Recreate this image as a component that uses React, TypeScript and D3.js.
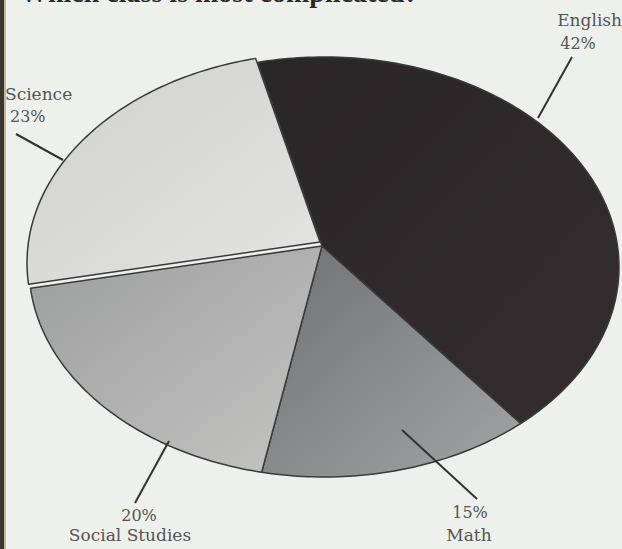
import React from "react";
import * as d3 from "d3";

const subjects = ["English", "Math", "Social Studies", "Science"];
const percents = [42, 15, 20, 23];
const percentLabels = ["42%", "15%", "20%", "23%"];
const titleText = "Which class is most complicated?";

const W = 622;
const H = 549;

// layout (not data)
const ellipse = { cx: 324, cy: 267, rx: 295, ry: 210 };
const apex = { x: 322, y: 246 };
const startDeg = -13;
const explode: Record<string, [number, number]> = { Science: [-2, -4] };

const fills: Record<string, [string, string]> = {
  English: ["#2a2527", "#332d2f"],
  Math: ["#6e7072", "#a2a4a5"],
  "Social Studies": ["#9c9d9d", "#c4c5c3"],
  Science: ["#d0d1ce", "#e4e5e1"],
};

type LabelLayout = {
  line: [number, number, number, number];
  name: { x: number; y: number; anchor: string };
  pct: { x: number; y: number; anchor: string };
};

const labelLayout: Record<string, LabelLayout> = {
  English: {
    line: [572, 57, 538, 118],
    name: { x: 622, y: 26, anchor: "end" },
    pct: { x: 578, y: 49, anchor: "middle" },
  },
  Science: {
    line: [16, 134, 63, 160],
    name: { x: 5, y: 100, anchor: "start" },
    pct: { x: 10, y: 122, anchor: "start" },
  },
  "Social Studies": {
    line: [135, 503, 169, 441],
    name: { x: 130, y: 541, anchor: "middle" },
    pct: { x: 139, y: 521, anchor: "middle" },
  },
  Math: {
    line: [477, 499, 402, 430],
    name: { x: 469, y: 541, anchor: "middle" },
    pct: { x: 470, y: 518, anchor: "middle" },
  },
};

const rows = subjects.map((s, i) => ({ subject: s, value: percents[i], label: percentLabels[i] }));

const pie = d3
  .pie<{ subject: string; value: number; label: string }>()
  .value((d) => d.value)
  .sort(null)
  .startAngle((startDeg * Math.PI) / 180)
  .endAngle((startDeg * Math.PI) / 180 + 2 * Math.PI);

const arcs = pie(rows);

const pt = (a: number): [number, number] => [
  ellipse.cx + ellipse.rx * Math.sin(a),
  ellipse.cy - ellipse.ry * Math.cos(a),
];

const line = d3.line<[number, number]>();

function slicePath(a0: number, a1: number): string {
  const n = Math.max(8, Math.ceil(((a1 - a0) * 180) / Math.PI));
  const pts: [number, number][] = [[apex.x, apex.y]];
  d3.range(n + 1).forEach((k) => pts.push(pt(a0 + ((a1 - a0) * k) / n)));
  return (line(pts) || "") + "Z";
}

export default function App() {
  const textFont = "'DejaVu Serif', 'Liberation Serif', serif";
  return (
    <div style={{ position: "fixed", left: 0, top: 0, width: W, height: H }}>
      <svg width={W} height={H} viewBox={`0 0 ${W} ${H}`} style={{ display: "block" }}>
        <defs>
          {subjects.map((s, i) => (
            <linearGradient key={s} id={`g${i}`} x1="0" y1="0" x2="1" y2="1">
              <stop offset="0%" stopColor={fills[s][0]} />
              <stop offset="100%" stopColor={fills[s][1]} />
            </linearGradient>
          ))}
        </defs>
        <rect x={0} y={0} width={W} height={H} fill="#eef0eb" />
        <text
          x={20}
          y={2}
          fontFamily="'Liberation Serif', serif"
          fontWeight="bold"
          fontSize={28}
          fill="#2a2a2a"
        >
          {titleText}
        </text>
        <rect x={0} y={0} width={4} height={H} fill="#3a3531" />
        <rect x={4} y={0} width={2} height={H} fill="#b09a72" opacity={0.7} />

        {arcs.map((a, i) => {
          const off = explode[a.data.subject] || [0, 0];
          return (
            <path
              key={a.data.subject}
              d={slicePath(a.startAngle, a.endAngle)}
              transform={`translate(${off[0]},${off[1]})`}
              fill={`url(#g${i})`}
              stroke="#3a3a3a"
              strokeWidth={1.5}
              strokeLinejoin="round"
            />
          );
        })}

        {arcs.map((a) => {
          const L = labelLayout[a.data.subject];
          return (
            <g key={a.data.subject}>
              <line
                x1={L.line[0]}
                y1={L.line[1]}
                x2={L.line[2]}
                y2={L.line[3]}
                stroke="#333"
                strokeWidth={2}
              />
              <text
                x={L.name.x}
                y={L.name.y}
                textAnchor={L.name.anchor as any}
                fontFamily={textFont}
                fontSize={17}
                fill="#555"
              >
                {a.data.subject}
              </text>
              <text
                x={L.pct.x}
                y={L.pct.y}
                textAnchor={L.pct.anchor as any}
                fontFamily={textFont}
                fontSize={16}
                fill="#555"
              >
                {a.data.label}
              </text>
            </g>
          );
        })}
      </svg>
    </div>
  );
}
